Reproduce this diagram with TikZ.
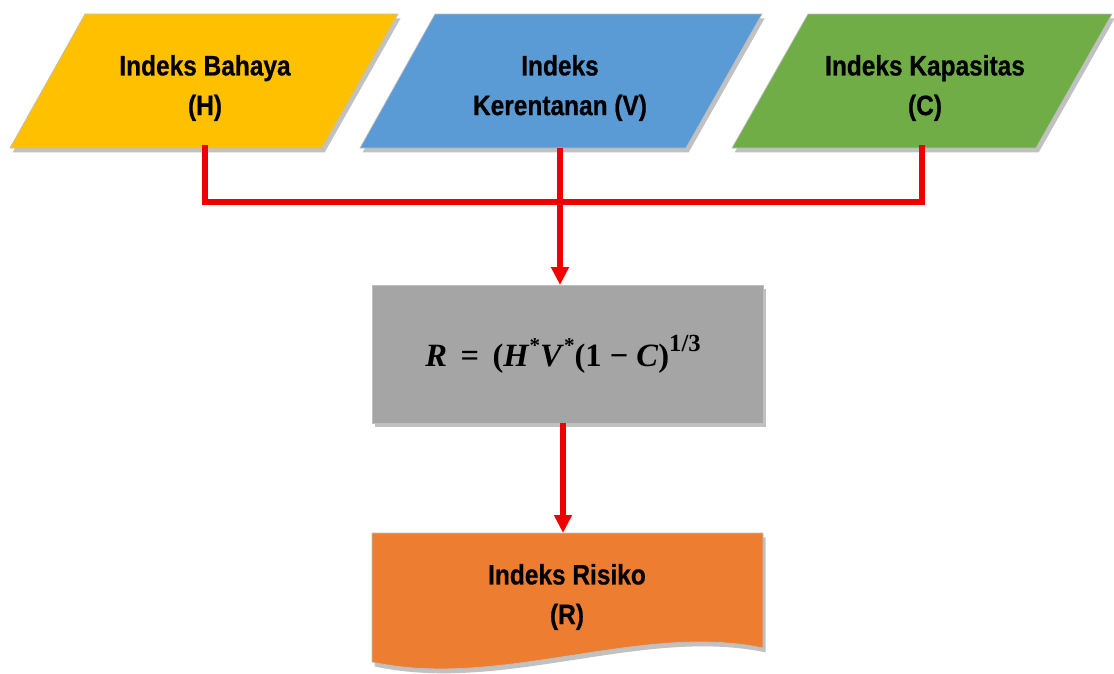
\documentclass[tikz,border=0pt]{standalone}
\usepackage{amsmath}
\usepackage{fontspec}
\setmainfont{Liberation Sans}
\newfontfamily\narrowbold[FakeStretch=0.87,FakeBold=0.6]{Liberation Sans Bold}
\newfontfamily\formfont{Liberation Serif}
\usetikzlibrary{arrows.meta,shadows}
\definecolor{hazard}{HTML}{FFC000}
\definecolor{vulner}{HTML}{5B9BD5}
\definecolor{capac}{HTML}{70AD47}
\definecolor{formulabg}{HTML}{A5A5A5}
\definecolor{riskbg}{HTML}{ED7D31}
\definecolor{linkred}{HTML}{F00000}
% raised pieces of the risk formula
\newcommand{\starsup}{\raisebox{0.42em}{\fontsize{12}{12}\selectfont *}}
\newcommand{\powsup}[1]{\raisebox{0.45em}{\fontsize{14}{14}\selectfont #1}}
\tikzset{
  shapebox/.style={draw=black!25, line width=0.4pt,
    drop shadow={shadow xshift=1.5pt, shadow yshift=-2.5pt, opacity=0.35, fill=black!70}},
  boxtext/.style={font=\narrowbold\fontsize{16}{22.6}\selectfont, align=center, text=black},
  mathtext/.style={font=\formfont\bfseries\fontsize{18.5}{22}\selectfont, inner sep=2pt, text=black},
  link/.style={draw=linkred, line width=3.4pt},
  linkarrow/.style={link, -{Triangle[length=0.36cm, width=0.34cm]}},
}
\begin{document}
\begin{tikzpicture}[x=0.02cm, y=-0.02cm]
\useasboundingbox (0,0) rectangle (1114,673);

% input parallelograms
\path[shapebox, fill=hazard] (85,14) -- (398,14) -- (322,148) -- (10,148) -- cycle;
\path[shapebox, fill=vulner] (435,14) -- (762,14) -- (686,148) -- (360,148) -- cycle;
\path[shapebox, fill=capac] (808,14) -- (1112,14) -- (1036,148) -- (732,148) -- cycle;

\node[boxtext] (haz) at (205,88) {Indeks Bahaya\\(H)};
\node[boxtext] (vul) at (560,88) {Indeks\\Kerentanan (V)};
\node[boxtext] (cap) at (925,88) {Indeks Kapasitas\\(C)};

\coordinate (hazOut) at (205,148);
\coordinate (vulOut) at (560,148);
\coordinate (capOut) at (922,148);
\coordinate (joinL) at (205,202);
\coordinate (joinR) at (922,202);

% formula box
\path[shapebox, fill=formulabg] (372,285) -- (763,285) -- (763,423) -- (372,423) -- cycle;
\node[mathtext] (frm) at (563,354)
  {\textit{R}\, =\, (\textit{H}\starsup\textit{V}\starsup(1 − \textit{C})\powsup{1/3}};
\coordinate (frmIn) at (560,285);
\coordinate (frmOut) at (563,423);

% output document shape
\path[shapebox, fill=riskbg] (372,533) -- (763,533) -- (763,648)
  .. controls (640,622) and (500,690) .. (372,662) -- cycle;
\node[boxtext] (risk) at (567,597) {Indeks Risiko\\(R)};
\coordinate (riskIn) at (563,533);

% connectors
\draw[link, line cap=rect] (hazOut) -- (joinL) -- (joinR) -- (capOut);
\draw[linkarrow] (vulOut) -- (frmIn);
\draw[linkarrow] (frmOut) -- (riskIn);
\end{tikzpicture}
\end{document}
